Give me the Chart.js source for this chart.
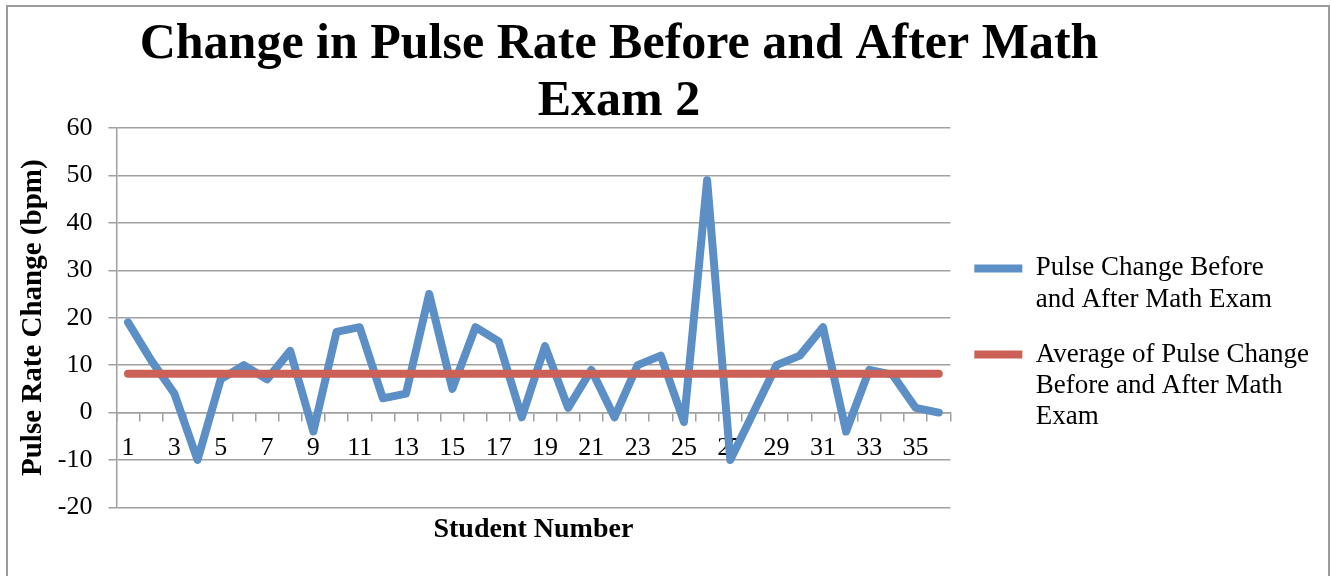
<!DOCTYPE html>
<html>
<head>
<meta charset="utf-8">
<script src="https://cdn.jsdelivr.net/npm/chart.js@4"></script>
<style>
  html, body { margin: 0; padding: 0; background: #fff; overflow: hidden; }
  #frame {
    position: absolute; left: 6px; top: 5px; width: 1320px; height: 640px;
    border: 2px solid #9c9c9c;
  }
  #chartCanvas { position: absolute; left: 0; top: 0; }
</style>
</head>
<body>
<div id="frame"></div>
<canvas id="chartCanvas" width="1331" height="576"></canvas>
<script>
// Data dari grafik
const studentNumbers = ['1', '2', '3', '4', '5', '6', '7', '8', '9', '10', '11', '12',
    '13', '14', '15', '16', '17', '18', '19', '20', '21', '22', '23', '24',
    '25', '26', '27', '28', '29', '30', '31', '32', '33', '34', '35', '36'];
const pulseChange = [19, 11, 4, -10, 7, 10, 7, 13, -4, 17, 18, 3,
    4, 25, 5, 18, 15, -1, 14, 1, 9, -1, 10, 12,
    -2, 49, -10, 0, 10, 12, 18, -4, 9, 8, 1, 0];
const averageChange = 8.2;
const yTicks = { min: -20, max: 60, step: 10 };

const titleLines = ['Change in Pulse Rate Before and After Math', 'Exam 2'];
const pulseLabel = ['Pulse Change Before', 'and After Math Exam'];
const averageLabel = ['Average of Pulse Change', 'Before and After Math', 'Exam'];

const serif = '"Liberation Serif", "DejaVu Serif", serif';
const gridColor = '#a0a0a0';

// Judul digambar sendiri supaya posisinya sama dengan gambar asli
const titlePlugin = {
    id: 'excelTitle',
    afterDraw(chart) {
        const ctx = chart.ctx;
        ctx.save();
        ctx.font = 'bold 50px ' + serif;
        ctx.fillStyle = '#000';
        ctx.textAlign = 'center';
        ctx.textBaseline = 'alphabetic';
        ctx.fillText(titleLines[0], 619, 58);
        ctx.fillText(titleLines[1], 619, 115);
        ctx.restore();
    }
};

const ctx = document.getElementById('chartCanvas').getContext('2d');
const pulseChart = new Chart(ctx, {
    type: 'line',
    data: {
        labels: studentNumbers,
        datasets: [{
            label: averageLabel,
            data: studentNumbers.map(() => averageChange),
            borderColor: '#cb6057',
            backgroundColor: '#cb6057',
            borderWidth: 8,
            borderCapStyle: 'round',
            borderJoinStyle: 'round',
            pointRadius: 0,
            tension: 0
        }, {
            label: pulseLabel,
            data: pulseChange,
            borderColor: '#5c8fc6',
            backgroundColor: '#5c8fc6',
            borderWidth: 8,
            borderCapStyle: 'round',
            borderJoinStyle: 'round',
            pointRadius: 0,
            tension: 0
        }]
    },
    options: {
        responsive: false,
        animation: false,
        layout: { padding: { top: 128, left: 8, right: 12, bottom: 15 } },
        plugins: {
            tooltip: { enabled: false },
            legend: {
                position: 'right',
                maxWidth: 600,
                labels: {
                    color: '#000',
                    font: { family: serif, size: 27, lineHeight: 1.15 },
                    usePointStyle: true,
                    pointStyle: 'line',
                    pointStyleWidth: 48,
                    padding: 24,
                    sort: (a, b) => b.datasetIndex - a.datasetIndex
                }
            }
        },
        scales: {
            x: {
                type: 'category',
                offset: true,
                grid: { display: false, drawTicks: false },
                border: { display: false },
                ticks: { display: false },
                title: {
                    display: true,
                    text: 'Student Number',
                    color: '#000',
                    font: { family: serif, size: 28, weight: 'bold' },
                    padding: { top: 6, bottom: 14 }
                }
            },
            xTicks: {
                type: 'category',
                labels: studentNumbers,
                offset: true,
                position: { y: 0 },
                grid: {
                    offset: true,
                    drawOnChartArea: false,
                    drawTicks: true,
                    tickLength: 8,
                    color: gridColor,
                    lineWidth: 1.5
                },
                border: { color: gridColor, width: 1.5 },
                ticks: {
                    autoSkip: false,
                    maxRotation: 0,
                    padding: 12,
                    color: '#000',
                    font: { family: serif, size: 26 },
                    callback: function(value, index) {
                        return index % 2 === 0 ? studentNumbers[index] : '';
                    }
                }
            },
            y: {
                min: yTicks.min,
                max: yTicks.max,
                grid: { color: gridColor, lineWidth: 1.5, tickLength: 8 },
                border: { color: gridColor, width: 1.5 },
                ticks: {
                    stepSize: yTicks.step,
                    padding: 16,
                    color: '#000',
                    font: { family: serif, size: 26 }
                },
                title: {
                    display: true,
                    text: 'Pulse Rate Change (bpm)',
                    color: '#000',
                    font: { family: serif, size: 29, weight: 'bold' },
                    padding: { top: 8, bottom: -9 }
                }
            }
        }
    },
    plugins: [titlePlugin]
});
</script>
</body>
</html>
